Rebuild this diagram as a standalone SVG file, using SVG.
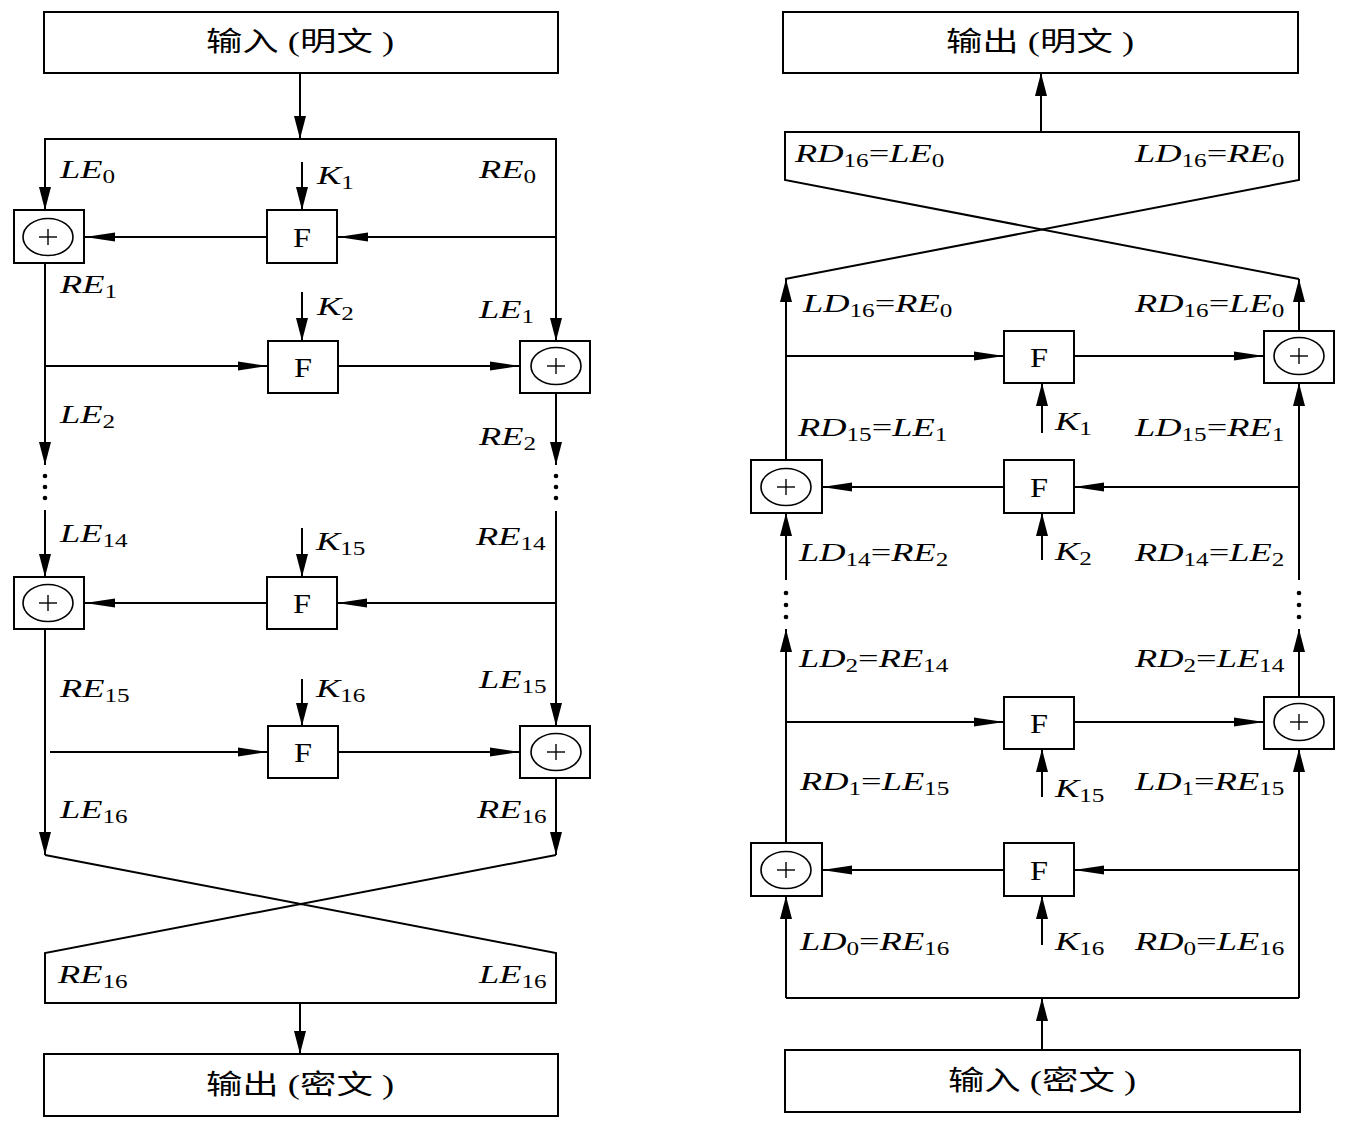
<svg xmlns="http://www.w3.org/2000/svg" width="1350" height="1124" viewBox="0 0 1350 1124">
<style>
.bx{fill:#fff;stroke:#000;stroke-width:2}
.ln{fill:none;stroke:#000;stroke-width:2}
.xc{fill:none;stroke:#000;stroke-width:1.6}
.pl{stroke:#000;stroke-width:1.4}
.cn{font-family:"Liberation Serif","Noto Sans CJK SC",serif;font-size:27px;fill:#000}
.ft{font-family:"Liberation Serif",serif;font-size:27px;fill:#000}
.lb{font-family:"Liberation Serif",serif;font-style:italic;font-size:26px;fill:#000}
.sb{font-size:18px;font-style:normal}
.eq{font-style:normal}
.av{marker-end:url(#av)}
.ah{marker-end:url(#ah)}
</style>
<defs>
<marker id="av" markerWidth="24" markerHeight="12" refX="23" refY="6" orient="auto" markerUnits="userSpaceOnUse"><path d="M0,0 L23,6 L0,12 z" fill="#000"/></marker>
<marker id="ah" markerWidth="30" markerHeight="10" refX="30" refY="5" orient="auto" markerUnits="userSpaceOnUse"><path d="M0,0.5 L30,5 L0,9.5 z" fill="#000"/></marker>
<g id="xorsym"><ellipse cx="0" cy="0" rx="25" ry="18.5" class="xc"/><line x1="-9" y1="0" x2="9" y2="0" class="pl"/><line x1="0" y1="-8" x2="0" y2="8" class="pl"/></g>
</defs>
<rect width="1350" height="1124" fill="#fff"/>

<g id="connectors">
<!-- left (encryption) -->
<path class="ln av" d="M300,73 V139"/>
<path class="ln av" d="M300,139 H45 V210"/>
<path class="ln av" d="M300,139 H556 V341"/>
<path class="ln ah" d="M556,237 H338"/>
<path class="ln ah" d="M267,237 H85"/>
<path class="ln av" d="M302,162 V210"/>
<path class="ln av" d="M45,263 V465"/>
<path class="ln ah" d="M45,366 H268"/>
<path class="ln ah" d="M338,366 H520"/>
<path class="ln av" d="M302,292 V341"/>
<path class="ln av" d="M556,393 V465"/>
<path class="ln av" d="M45,510 V577"/>
<path class="ln av" d="M556,511 V726"/>
<path class="ln ah" d="M556,603 H337"/>
<path class="ln ah" d="M267,603 H85"/>
<path class="ln av" d="M302,528 V577"/>
<path class="ln av" d="M45,629 V855"/>
<path class="ln ah" d="M50,752 H268"/>
<path class="ln av" d="M302,679 V726"/>
<path class="ln ah" d="M338,752 H520"/>
<path class="ln av" d="M556,778 V855"/>
<path class="ln" d="M45,855 L556,953 V1003 H45 V953 L556,855"/>
<path class="ln av" d="M300,1003 V1054"/>
<g fill="#000">
<circle cx="45" cy="476" r="2.3"/><circle cx="45" cy="487" r="2.3"/><circle cx="45" cy="498" r="2.3"/>
<circle cx="556" cy="476" r="2.3"/><circle cx="556" cy="487" r="2.3"/><circle cx="556" cy="498" r="2.3"/>
</g>
<!-- right (decryption) -->
<path class="ln av" d="M1041,131 V73"/>
<path class="ln" d="M785,279 L1299,180 V132 H785 V180 L1299,279"/>
<path class="ln av" d="M786,468 V279"/>
<path class="ln ah" d="M786,356 H1004"/>
<path class="ln ah" d="M1074,356 H1264"/>
<path class="ln av" d="M1299,338 V279"/>
<path class="ln av" d="M1042,433 V383"/>
<path class="ln av" d="M1299,580 V383"/>
<path class="ln ah" d="M1299,487 H1074"/>
<path class="ln ah" d="M1004,487 H822"/>
<path class="ln av" d="M1042,560 V513"/>
<path class="ln av" d="M786,580 V513"/>
<g fill="#000">
<circle cx="786" cy="593" r="2.3"/><circle cx="786" cy="605" r="2.3"/><circle cx="786" cy="617" r="2.3"/>
<circle cx="1299" cy="593" r="2.3"/><circle cx="1299" cy="605" r="2.3"/><circle cx="1299" cy="617" r="2.3"/>
</g>
<path class="ln av" d="M786,843 V629"/>
<path class="ln ah" d="M786,722 H1004"/>
<path class="ln ah" d="M1074,722 H1264"/>
<path class="ln av" d="M1299,697 V629"/>
<path class="ln av" d="M1042,797 V749"/>
<path class="ln av" d="M1299,998 V749"/>
<path class="ln ah" d="M1299,870 H1074"/>
<path class="ln ah" d="M1004,870 H822"/>
<path class="ln av" d="M1042,945 V896"/>
<path class="ln av" d="M786,998 V896"/>
<path class="ln" d="M786,998 H1299"/>
<path class="ln av" d="M1042,1050 V998"/>
</g>

<!-- left nodes -->
<g id="enc-input"><rect class="bx" x="44" y="12" width="514" height="61"/><text class="cn" text-anchor="middle" transform="translate(300,51) scale(1.35,1)">输入 (明文 )</text></g>
<g id="enc-xor1"><rect class="bx" x="14" y="210" width="70" height="53"/><use href="#xorsym" x="48" y="237"/></g>
<g id="enc-f1"><rect class="bx" x="267" y="210" width="70" height="53"/><text class="ft" text-anchor="middle" transform="translate(302,247) scale(1.2,1)">F</text></g>
<g id="enc-f2"><rect class="bx" x="268" y="341" width="70" height="52"/><text class="ft" text-anchor="middle" transform="translate(303,377) scale(1.2,1)">F</text></g>
<g id="enc-xor2"><rect class="bx" x="520" y="341" width="70" height="52"/><use href="#xorsym" x="556" y="366"/></g>
<g id="enc-xor3"><rect class="bx" x="14" y="577" width="70" height="52"/><use href="#xorsym" x="48" y="603"/></g>
<g id="enc-f3"><rect class="bx" x="267" y="577" width="70" height="52"/><text class="ft" text-anchor="middle" transform="translate(302,613) scale(1.2,1)">F</text></g>
<g id="enc-f4"><rect class="bx" x="268" y="726" width="70" height="52"/><text class="ft" text-anchor="middle" transform="translate(303,762) scale(1.2,1)">F</text></g>
<g id="enc-xor4"><rect class="bx" x="520" y="726" width="70" height="52"/><use href="#xorsym" x="556" y="752"/></g>
<g id="enc-output"><rect class="bx" x="44" y="1054" width="514" height="62"/><text class="cn" text-anchor="middle" transform="translate(300,1094) scale(1.35,1)">输出 (密文 )</text></g>

<!-- right nodes -->
<g id="dec-output"><rect class="bx" x="783" y="12" width="515" height="61"/><text class="cn" text-anchor="middle" transform="translate(1040,51) scale(1.35,1)">输出 (明文 )</text></g>
<g id="dec-f1"><rect class="bx" x="1004" y="331" width="70" height="52"/><text class="ft" text-anchor="middle" transform="translate(1039,367) scale(1.2,1)">F</text></g>
<g id="dec-xor1"><rect class="bx" x="1264" y="331" width="70" height="52"/><use href="#xorsym" x="1299" y="356"/></g>
<g id="dec-xor2"><rect class="bx" x="751" y="460" width="71" height="53"/><use href="#xorsym" x="786" y="487"/></g>
<g id="dec-f2"><rect class="bx" x="1004" y="460" width="70" height="53"/><text class="ft" text-anchor="middle" transform="translate(1039,497) scale(1.2,1)">F</text></g>
<g id="dec-f3"><rect class="bx" x="1004" y="697" width="70" height="52"/><text class="ft" text-anchor="middle" transform="translate(1039,733) scale(1.2,1)">F</text></g>
<g id="dec-xor3"><rect class="bx" x="1264" y="697" width="70" height="52"/><use href="#xorsym" x="1299" y="722"/></g>
<g id="dec-xor4"><rect class="bx" x="751" y="843" width="71" height="53"/><use href="#xorsym" x="786" y="870"/></g>
<g id="dec-f4"><rect class="bx" x="1004" y="843" width="70" height="53"/><text class="ft" text-anchor="middle" transform="translate(1039,880) scale(1.2,1)">F</text></g>
<g id="dec-input"><rect class="bx" x="785" y="1050" width="515" height="62"/><text class="cn" text-anchor="middle" transform="translate(1042,1090) scale(1.35,1)">输入 (密文 )</text></g>

<g id="labels">
<text class="lb" transform="translate(60,178) scale(1.4,1)">LE<tspan class="sb" dy="5">0</tspan></text>
<text class="lb" transform="translate(479,178) scale(1.4,1)">RE<tspan class="sb" dy="5">0</tspan></text>
<text class="lb" transform="translate(317,184) scale(1.4,1)">K<tspan class="sb" dy="5">1</tspan></text>
<text class="lb" transform="translate(60,293) scale(1.4,1)">RE<tspan class="sb" dy="5">1</tspan></text>
<text class="lb" transform="translate(317,315) scale(1.4,1)">K<tspan class="sb" dy="5">2</tspan></text>
<text class="lb" transform="translate(479,318) scale(1.4,1)">LE<tspan class="sb" dy="5">1</tspan></text>
<text class="lb" transform="translate(60,423) scale(1.4,1)">LE<tspan class="sb" dy="5">2</tspan></text>
<text class="lb" transform="translate(479,445) scale(1.4,1)">RE<tspan class="sb" dy="5">2</tspan></text>
<text class="lb" transform="translate(60,542) scale(1.4,1)">LE<tspan class="sb" dy="5">14</tspan></text>
<text class="lb" transform="translate(476,545) scale(1.4,1)">RE<tspan class="sb" dy="5">14</tspan></text>
<text class="lb" transform="translate(316,550) scale(1.4,1)">K<tspan class="sb" dy="5">15</tspan></text>
<text class="lb" transform="translate(60,697) scale(1.4,1)">RE<tspan class="sb" dy="5">15</tspan></text>
<text class="lb" transform="translate(316,697) scale(1.4,1)">K<tspan class="sb" dy="5">16</tspan></text>
<text class="lb" transform="translate(479,688) scale(1.4,1)">LE<tspan class="sb" dy="5">15</tspan></text>
<text class="lb" transform="translate(60,818) scale(1.4,1)">LE<tspan class="sb" dy="5">16</tspan></text>
<text class="lb" transform="translate(477,818) scale(1.4,1)">RE<tspan class="sb" dy="5">16</tspan></text>
<text class="lb" transform="translate(58,983) scale(1.4,1)">RE<tspan class="sb" dy="5">16</tspan></text>
<text class="lb" transform="translate(479,983) scale(1.4,1)">LE<tspan class="sb" dy="5">16</tspan></text>

<text class="lb" transform="translate(795,162) scale(1.4,1)">RD<tspan class="sb" dy="5">16</tspan><tspan class="eq" dy="-5">=</tspan>LE<tspan class="sb" dy="5">0</tspan></text>
<text class="lb" transform="translate(1135,162) scale(1.4,1)">LD<tspan class="sb" dy="5">16</tspan><tspan class="eq" dy="-5">=</tspan>RE<tspan class="sb" dy="5">0</tspan></text>
<text class="lb" transform="translate(803,312) scale(1.4,1)">LD<tspan class="sb" dy="5">16</tspan><tspan class="eq" dy="-5">=</tspan>RE<tspan class="sb" dy="5">0</tspan></text>
<text class="lb" transform="translate(1135,312) scale(1.4,1)">RD<tspan class="sb" dy="5">16</tspan><tspan class="eq" dy="-5">=</tspan>LE<tspan class="sb" dy="5">0</tspan></text>
<text class="lb" transform="translate(1055,430) scale(1.4,1)">K<tspan class="sb" dy="5">1</tspan></text>
<text class="lb" transform="translate(798,436) scale(1.4,1)">RD<tspan class="sb" dy="5">15</tspan><tspan class="eq" dy="-5">=</tspan>LE<tspan class="sb" dy="5">1</tspan></text>
<text class="lb" transform="translate(1135,436) scale(1.4,1)">LD<tspan class="sb" dy="5">15</tspan><tspan class="eq" dy="-5">=</tspan>RE<tspan class="sb" dy="5">1</tspan></text>
<text class="lb" transform="translate(1055,560) scale(1.4,1)">K<tspan class="sb" dy="5">2</tspan></text>
<text class="lb" transform="translate(799,561) scale(1.4,1)">LD<tspan class="sb" dy="5">14</tspan><tspan class="eq" dy="-5">=</tspan>RE<tspan class="sb" dy="5">2</tspan></text>
<text class="lb" transform="translate(1135,561) scale(1.4,1)">RD<tspan class="sb" dy="5">14</tspan><tspan class="eq" dy="-5">=</tspan>LE<tspan class="sb" dy="5">2</tspan></text>
<text class="lb" transform="translate(799,667) scale(1.4,1)">LD<tspan class="sb" dy="5">2</tspan><tspan class="eq" dy="-5">=</tspan>RE<tspan class="sb" dy="5">14</tspan></text>
<text class="lb" transform="translate(1135,667) scale(1.4,1)">RD<tspan class="sb" dy="5">2</tspan><tspan class="eq" dy="-5">=</tspan>LE<tspan class="sb" dy="5">14</tspan></text>
<text class="lb" transform="translate(800,790) scale(1.4,1)">RD<tspan class="sb" dy="5">1</tspan><tspan class="eq" dy="-5">=</tspan>LE<tspan class="sb" dy="5">15</tspan></text>
<text class="lb" transform="translate(1135,790) scale(1.4,1)">LD<tspan class="sb" dy="5">1</tspan><tspan class="eq" dy="-5">=</tspan>RE<tspan class="sb" dy="5">15</tspan></text>
<text class="lb" transform="translate(1055,797) scale(1.4,1)">K<tspan class="sb" dy="5">15</tspan></text>
<text class="lb" transform="translate(800,950) scale(1.4,1)">LD<tspan class="sb" dy="5">0</tspan><tspan class="eq" dy="-5">=</tspan>RE<tspan class="sb" dy="5">16</tspan></text>
<text class="lb" transform="translate(1055,950) scale(1.4,1)">K<tspan class="sb" dy="5">16</tspan></text>
<text class="lb" transform="translate(1135,950) scale(1.4,1)">RD<tspan class="sb" dy="5">0</tspan><tspan class="eq" dy="-5">=</tspan>LE<tspan class="sb" dy="5">16</tspan></text>
</g>
</svg>
